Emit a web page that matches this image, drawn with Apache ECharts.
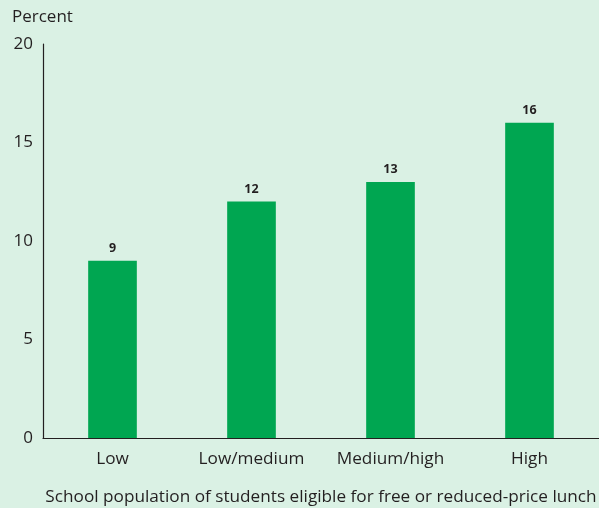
<!DOCTYPE html>
<html><head><meta charset="utf-8">
<script src="https://cdn.jsdelivr.net/npm/echarts@6/dist/echarts.min.js"></script>
<style>html,body{margin:0;padding:0;background:#daf1e4;}#c{width:599px;height:508px;}</style>
</head><body><div id="c"></div>
<script>
const categories = ["Low", "Low/medium", "Medium/high", "High"];
const values = [9, 12, 13, 16];
const yTicks = [0, 5, 10, 15, 20];
const FONT = "Open Sans";
const chart = echarts.init(document.getElementById('c'));
chart.setOption({
  backgroundColor: '#daf1e4',
  textStyle: { fontFamily: FONT },
  grid: { left: 43, right: 0, top: 44, bottom: 70, containLabel: false, outerBoundsMode: 'none' },
  xAxis: {
    type: 'category', data: categories,
    name: 'School population of students eligible for free or reduced-price lunch',
    nameLocation: 'middle', nameGap: 51,
    nameTextStyle: { color: '#231f20', fontSize: 17.2, fontFamily: FONT },
    axisLine: { lineStyle: { color: '#231f20', width: 1.2 } },
    axisTick: { show: false },
    axisLabel: { color: '#231f20', fontSize: 17.2, margin: 13, interval: 0, fontFamily: FONT }
  },
  yAxis: {
    type: 'value', min: 0, max: 20, interval: 5,
    name: 'Percent', nameLocation: 'end', nameGap: 18,
    nameTextStyle: { color: '#231f20', fontSize: 17, align: 'left', padding: [0, 0, 0, -31], fontFamily: FONT },
    axisLine: { show: true, lineStyle: { color: '#231f20', width: 1.2 } },
    axisTick: { show: false },
    splitLine: { show: false },
    axisLabel: { color: '#231f20', fontSize: 17, margin: 10, fontFamily: FONT,
      formatter: v => yTicks.includes(v) ? String(v) : '' }
  },
  series: [{
    type: 'bar', data: values, barWidth: '35%',
    itemStyle: { color: '#00a651' },
    label: { show: true, position: 'top', distance: 6, color: '#231f20', fontSize: 12.5, fontWeight: 'bold', fontFamily: FONT }
  }]
});
</script></body></html>
